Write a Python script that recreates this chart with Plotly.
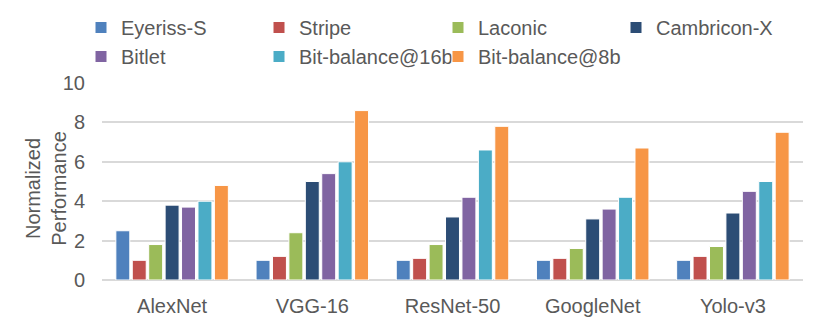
import plotly.graph_objects as go

# Données
categories = ["AlexNet", "VGG-16", "ResNet-50", "GoogleNet", "Yolo-v3"]

eyeriss_s  = [2.5, 1.0, 1.0, 1.0, 1.0]
stripe     = [1.0, 1.2, 1.1, 1.1, 1.2]
laconic    = [1.8, 2.4, 1.8, 1.6, 1.7]
cambricon  = [3.8, 5.0, 3.2, 3.1, 3.4]
bitlet     = [3.7, 5.4, 4.2, 3.6, 4.5]
bb16       = [4.0, 6.0, 6.6, 4.2, 5.0]
bb8        = [4.8, 8.6, 7.8, 6.7, 7.5]

y_ticks = [0, 2, 4, 6, 8, 10]

# (nom, valeurs, couleur, légende = colonne)
series = [
    ("Eyeriss-S",       eyeriss_s, "#4F81BD", "legend"),
    ("Stripe",          stripe,    "#C0504D", "legend2"),
    ("Laconic",         laconic,   "#9BBB59", "legend3"),
    ("Cambricon-X",     cambricon, "#2C4D75", "legend4"),
    ("Bitlet",          bitlet,    "#8064A2", "legend"),
    ("Bit-balance@16b", bb16,      "#4BACC6", "legend2"),
    ("Bit-balance@8b",  bb8,       "#F79646", "legend3"),
]

FONT = "Liberation Sans, Arial, sans-serif"
GREY = "#595959"

# la page HTML garde la marge de 8 px du <body> : on compense
OFF = 8
W, H = 822 - OFF, 325 - OFF

fig = go.Figure()
for name, vals, color, leg in series:
    fig.add_trace(go.Bar(
        x=categories, y=vals, name=name,
        marker=dict(color=color, line=dict(color="white", width=1)),
        legend=leg,
    ))


def _legend(px_left, px_top):
    """Légende (une colonne) positionnée en pixels écran."""
    return dict(
        orientation="v",
        xref="container", yref="container",
        x=(px_left - OFF) / W, y=1 - (px_top - OFF) / H,
        xanchor="left", yanchor="top",
        font=dict(family=FONT, size=20, color=GREY),
        bgcolor="rgba(0,0,0,0)",
        tracegroupgap=0,
        traceorder="normal",
    )


fig.update_layout(
    width=W, height=H,
    margin=dict(l=102 - OFF, r=822 - 803, t=83 - OFF, b=325 - 280,
                autoexpand=False),
    plot_bgcolor="white", paper_bgcolor="white",
    barmode="group", bargap=0.18, bargroupgap=0.15,
    font=dict(family=FONT, size=20, color=GREY),
    legend=_legend(81, 8),
    legend2=_legend(259, 8),
    legend3=_legend(438, 8),
    legend4=_legend(616, 8),
    xaxis=dict(
        tickfont=dict(size=20, color=GREY),
        showgrid=False, showline=False, ticks="",
        ticklabelstandoff=12,
    ),
    yaxis=dict(
        range=[0, 10], tickvals=y_ticks,
        tickfont=dict(size=20, color=GREY),
        showgrid=True, gridcolor="#D9D9D9", gridwidth=1.5,
        zeroline=True, zerolinecolor="#D9D9D9", zerolinewidth=1.5,
        showline=False, ticks="", ticklabelstandoff=16,
    ),
)

# titre de l'axe Y en annotation (le titre natif se place mal sans autoexpand)
fig.add_annotation(
    text="Normalized<br>Performance",
    xref="paper", yref="paper", x=-0.08, y=0.468,
    xanchor="center", yanchor="middle",
    textangle=-90, showarrow=False,
    font=dict(family=FONT, size=20, color=GREY),
)

fig.write_html("out.html")
